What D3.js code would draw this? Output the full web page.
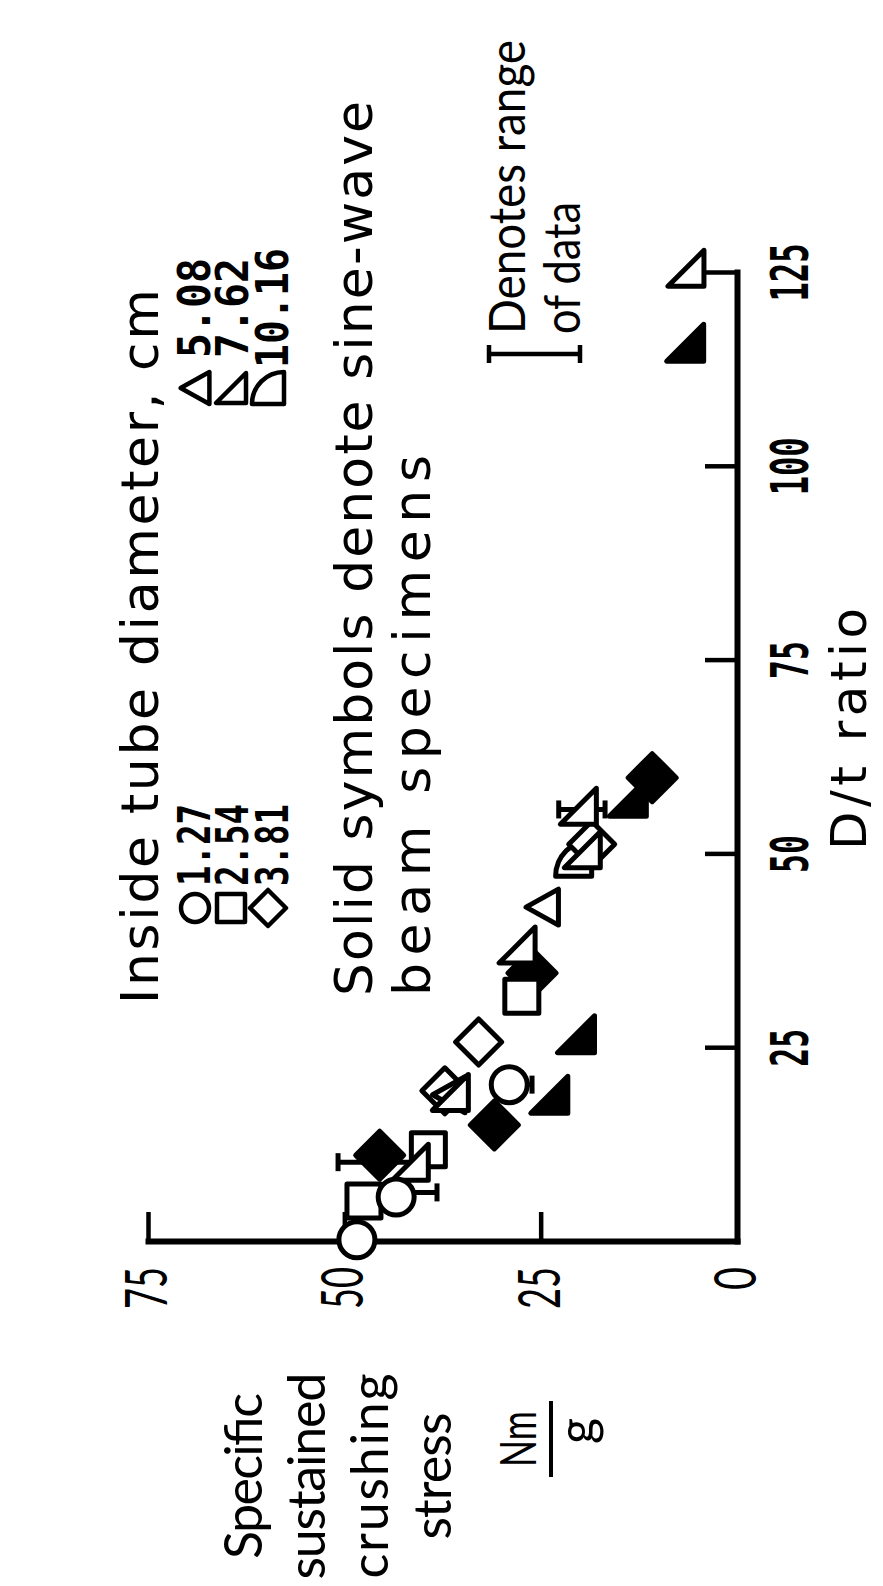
<!DOCTYPE html>
<html>
<head>
<meta charset="utf-8">
<script src="https://cdn.jsdelivr.net/npm/d3@7"></script>
<style>
  html, body { margin: 0; padding: 0; background: #fff; }
  svg { display: block; }
</style>
</head>
<body>
<svg id="chart" width="883" height="1586"></svg>
<script>
// ---- Data -------------------------------------------------------------
// Axis ticks
const dtTicks = [25, 50, 75, 100, 125];          // D/t ratio
const stressTicks = [0, 25, 50, 75];             // specific sustained crushing stress, Nm/g

// Inside tube diameter, cm (legend entries)
const diameterLabels = ["1.27", "2.54", "3.81", "5.08", "7.62", "10.16"];

// Tube specimens, [D/t, stress]
const tube127 = [[0.3, 48.4], [5.8, 43.4], [20.3, 29.0]];
const tube254 = [[5.3, 47.5], [11.9, 39.3], [31.7, 27.4]];
const tube381 = [[19.5, 37.2], [25.8, 32.9], [51.3, 18.5]];
const tube508 = [[19.0, 36.7], [43.2, 24.8]];
const tube762 = [[10.3, 41.6], [19.3, 36.5], [38.3, 28.0], [50.6, 19.7], [56.2, 20.2], [125.6, 6.5]];
const tube1016 = [[49.5, 20.8]];

// Sine-wave beam specimens (solid symbols), [D/t, stress]
const beam381 = [[11.2, 45.5], [15.1, 30.9], [34.7, 26.1], [59.9, 10.8]];
const beam762 = [[19.0, 23.9], [26.8, 20.5], [57.3, 13.9], [116.0, 6.6]];

// Range of data, [D/t, low stress, high stress]
const dataRanges = [[6.4, 38.2, 45.0], [10.3, 40.0, 50.8], [20.3, 26.1, 29.0], [55.8, 16.8, 22.7]];

// ---- Layout -------------------------------------------------------------
const W = 883, H = 1586;
const svg = d3.select("#chart");
// The whole figure is set on its side: drawn upright, then turned a quarter turn.
const g = svg.append("g").attr("transform", `translate(0,${H}) rotate(-90)`);

const x = d3.scaleLinear().domain([0, 125]).range([344, 1313]);
const y = d3.scaleLinear().domain([0, 75]).range([737, 148]);

const INK = "#000";
const SANS = "Lato, 'Open Sans', sans-serif";
const WIDE = "'DejaVu Sans', sans-serif";
const MONO = "'DejaVu Sans Mono', monospace";

function addText(parent, str, u, v, opt) {
  const t = parent.append("text")
    .attr("x", u).attr("y", v)
    .attr("fill", INK)
    .attr("font-family", opt.family || SANS)
    .attr("font-size", opt.size || 50)
    .attr("font-weight", opt.weight || "normal")
    .attr("text-anchor", opt.anchor || "start")
    .text(str);
  if (opt.len) t.attr("textLength", opt.len).attr("lengthAdjust", opt.adjust || "spacingAndGlyphs");
  return t;
}

// ---- Axes -------------------------------------------------------------
const xAxis = d3.axisBottom(x).tickValues(dtTicks)
  .tickSizeInner(-32).tickSizeOuter(0).tickPadding(34);
const yAxis = d3.axisLeft(y).tickValues(stressTicks)
  .tickSizeInner(-30).tickSizeOuter(0).tickPadding(25);

const xg = g.append("g").attr("transform", `translate(0,${y(0)})`).call(xAxis);
const yg = g.append("g").attr("transform", `translate(${x(0)},0)`).call(yAxis);

[xg, yg].forEach(ax => {
  ax.attr("font-family", null).attr("font-size", null);
  ax.select(".domain").attr("stroke", INK).attr("stroke-width", 6).attr("stroke-linecap", "square");
  ax.selectAll(".tick line").attr("stroke", INK).attr("stroke-width", 4.5);
});
xg.selectAll(".tick text")
  .attr("fill", INK).attr("font-family", MONO).attr("font-size", 52).attr("font-weight", "bold")
  .attr("textLength", d => String(d).length === 3 ? 58 : 38)
  .attr("lengthAdjust", "spacingAndGlyphs");
yg.selectAll(".tick text")
  .attr("fill", INK).attr("font-family", SANS).attr("font-size", 58)
  .attr("textLength", d => String(d).length === 2 ? 42 : 23)
  .attr("lengthAdjust", "spacingAndGlyphs");

// Axis titles
addText(g, "D/t ratio", 736, 866, { family: WIDE, size: 50, len: 242, adjust: "spacing" });

const yTitle = ["Specific", "sustained", "crushing", "stress"];
const yTitleLen = [166, 207, 205, 127];
yTitle.forEach((s, i) => addText(g, s, 110, 262 + i * 63, { size: 52, anchor: "middle", len: yTitleLen[i], adjust: "spacing" }));

// Nm / g unit
addText(g, "Nm", 147, 536, { size: 50, anchor: "middle", len: 56 });
g.append("line").attr("x1", 109).attr("x2", 185).attr("y1", 551).attr("y2", 551)
  .attr("stroke", INK).attr("stroke-width", 4);
addText(g, "g", 155, 594, { size: 50, anchor: "middle" });

// ---- Symbols -------------------------------------------------------------
const symbolPath = {
  square: s => `M${-s/2},${-s/2}h${s}v${s}h${-s}Z`,
  diamond: s => `M0,${-s/2}L${s/2},0L0,${s/2}L${-s/2},0Z`,
  triangle: s => `M0,${-s*0.45}L${s/2},${s*0.45}L${-s/2},${s*0.45}Z`,
  rightTriangle: s => `M${-s/2},${-s/2}L${-s/2},${s/2}L${s/2},${s/2}Z`,
  quarter: s => `M${-s/2},${-s/2}A${s},${s} 0 0 1 ${s/2},${s/2}L${-s/2},${s/2}Z`
};

function drawSymbol(parent, shape, cx, cy, size, filled, sw) {
  const fill = filled ? INK : "#fff";
  const w = sw || 5;
  if (shape === "circle") {
    parent.append("circle").attr("cx", cx).attr("cy", cy).attr("r", size / 2)
      .attr("fill", fill).attr("stroke", INK).attr("stroke-width", w);
  } else {
    parent.append("path").attr("d", symbolPath[shape](size))
      .attr("transform", `translate(${cx},${cy})`)
      .attr("fill", fill).attr("stroke", INK).attr("stroke-width", w)
      .attr("stroke-linejoin", "round");
  }
}

const series = [
  { pts: beam381, shape: "diamond", size: 48, filled: true },
  { pts: beam762, shape: "rightTriangle", size: 37, filled: true },
  { pts: tube1016, shape: "quarter", size: 36, filled: false },
  { pts: tube381, shape: "diamond", size: 46, filled: false },
  { pts: tube254, shape: "square", size: 34, filled: false },
  { pts: tube508, shape: "triangle", size: 36, filled: false },
  { pts: tube762, shape: "rightTriangle", size: 36, filled: false },
  { pts: tube127, shape: "circle", size: 36, filled: false }
];

// Range bars sit beneath the symbols
const rg = g.append("g").attr("stroke", INK).attr("stroke-width", 5).attr("fill", "none");
dataRanges.forEach(([dt, lo, hi]) => {
  const cx = x(dt);
  rg.append("line").attr("x1", cx).attr("x2", cx).attr("y1", y(lo)).attr("y2", y(hi));
  [lo, hi].forEach(v => rg.append("line")
    .attr("x1", cx - 9).attr("x2", cx + 9).attr("y1", y(v)).attr("y2", y(v)));
});

const sg = g.append("g");
series.forEach(s => s.pts.forEach(([dt, st]) => drawSymbol(sg, s.shape, x(dt), y(st), s.size, s.filled)));

// ---- Legend -------------------------------------------------------------
addText(g, "Inside tube diameter, cm", 582, 158, { family: WIDE, size: 52, len: 715, adjust: "spacing" });

const legendShapes = ["circle", "square", "diamond", "triangle", "rightTriangle", "quarter"];
const legendSizes = [28, 28, 36, 32, 30, 32];
const rowV = [195, 231, 268];
const rowBase = [210, 248, 288];
diameterLabels.forEach((lab, i) => {
  const col = Math.floor(i / 3), row = i % 3;
  const su = col === 0 ? 678 : 1198;
  drawSymbol(g, legendShapes[i], su, rowV[row], legendSizes[i], false, 4.5);
  const tu = col === 0 ? 700 : (lab.length > 4 ? 1218 : 1228);
  const tl = col === 0 ? 82 : (lab.length > 4 ? 120 : 100);
  addText(g, lab, tu, rowBase[row], { family: MONO, size: 44, weight: "bold", len: tl });
});

addText(g, "Solid symbols denote sine-wave", 590, 372, { family: WIDE, size: 52, len: 895, adjust: "spacing" });
addText(g, "beam specimens", 590, 430, { family: WIDE, size: 52, len: 541, adjust: "spacing" });

// Range-of-data key
const ik = g.append("g").attr("stroke", INK).attr("stroke-width", 4.5);
ik.append("line").attr("x1", 1232).attr("x2", 1232).attr("y1", 489).attr("y2", 580);
[489, 580].forEach(v => ik.append("line").attr("x1", 1223).attr("x2", 1241).attr("y1", v).attr("y2", v));
addText(g, "Denotes range", 1252, 525, { size: 50, len: 294, adjust: "spacingAndGlyphs" });
addText(g, "of data", 1252, 580, { size: 50, len: 132, adjust: "spacingAndGlyphs" });
</script>
</body>
</html>
